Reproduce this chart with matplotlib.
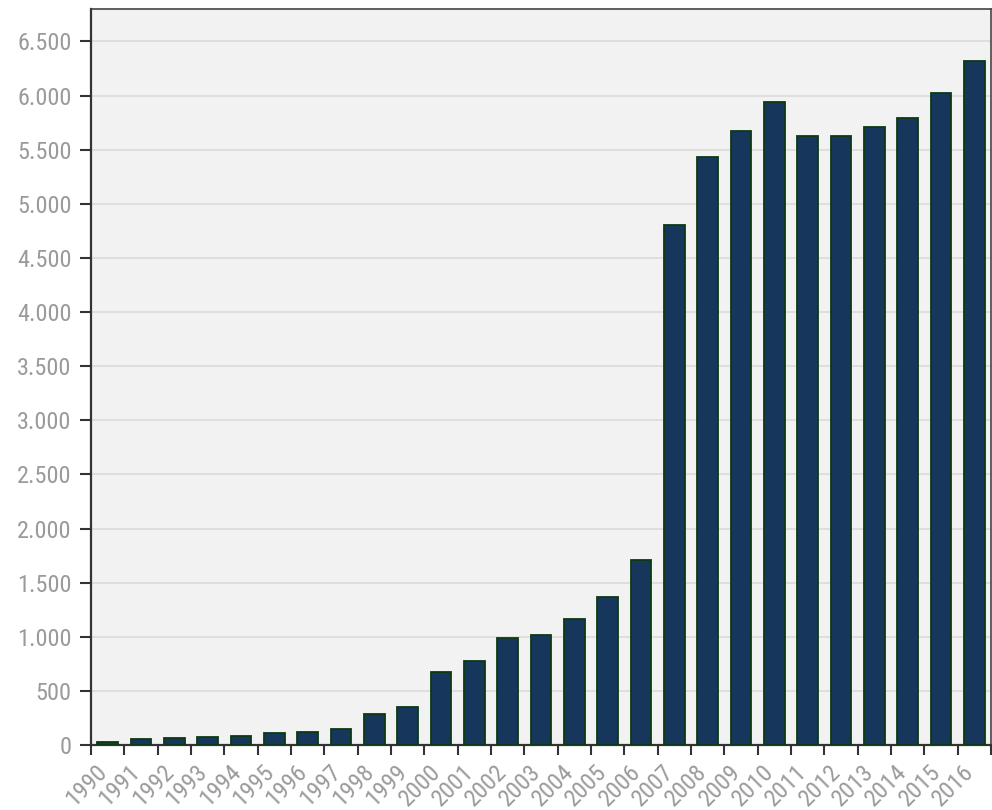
import matplotlib
matplotlib.use("Agg")
import matplotlib.pyplot as plt
import numpy as np
from matplotlib.ticker import FuncFormatter, FixedLocator
from matplotlib.transforms import ScaledTranslation
from matplotlib import font_manager

years = [str(y) for y in range(1990, 2017)]
values = [25, 53, 68, 70, 80, 108, 120, 151, 290, 354, 679, 775, 988, 1013, 1167,
          1371, 1705, 4801, 5436, 5670, 5945, 5627, 5627, 5710, 5793, 6028, 6318]
yticks = list(range(0, 7000, 500))

names = {f.name for f in font_manager.fontManager.ttflist}
fam = ['Liberation Sans Narrow'] if 'Liberation Sans Narrow' in names else ['Roboto Condensed'] if 'Roboto Condensed' in names else ['Liberation Sans']
plt.rcParams['font.family'] = fam + ['DejaVu Sans']
fs = 17.5 if 'Narrow' in fam[0] or 'Condensed' in fam[0] else 15

fig = plt.figure(figsize=(9.92, 8.10), dpi=100)
ax = fig.add_axes([0.0917, 0.0802, 0.9073, 0.9087])
ax.set_facecolor('#f2f2f2')

x = np.arange(len(years))
ax.bar(x, values, width=0.62, color='#17365c', edgecolor='#0c3a12', linewidth=1.3, zorder=3)

ax.set_xlim(-0.5, len(years) - 0.5)
ax.set_ylim(0, 6800)

ax.yaxis.set_major_locator(FixedLocator(yticks))
ax.yaxis.set_major_formatter(FuncFormatter(lambda v, p: f"{int(v):,}".replace(',', '.')))
ax.grid(axis='y', color='#dadada', linewidth=1.2, zorder=0)
ax.set_axisbelow(True)

ax.set_xticks(x)
ax.set_xticklabels(years, rotation=45, ha='right', va='center', rotation_mode='anchor')
ax.set_xticks(np.arange(-0.5, len(years), 1.0), minor=True)
ax.tick_params(axis='x', which='major', length=0, pad=17, labelsize=fs, labelcolor='#9a9a9a')
ax.tick_params(axis='x', which='minor', length=7, width=1.5, color='#333333', direction='out')
ax.tick_params(axis='y', which='major', length=8, width=1.5, color='#333333', pad=6,
               labelsize=fs, labelcolor='#9a9a9a')
shift = ScaledTranslation(-4 / 100, 0, fig.dpi_scale_trans)
for lab in ax.get_xticklabels():
    lab.set_transform(lab.get_transform() + shift)

for s in ax.spines.values():
    s.set_color('#444444')
    s.set_linewidth(1.2)
ax.spines['left'].set_linewidth(1.6)
ax.spines['bottom'].set_linewidth(1.6)
ax.spines['left'].set_color('#333333')
ax.spines['bottom'].set_color('#333333')

fig.savefig('out.png', dpi=100)
